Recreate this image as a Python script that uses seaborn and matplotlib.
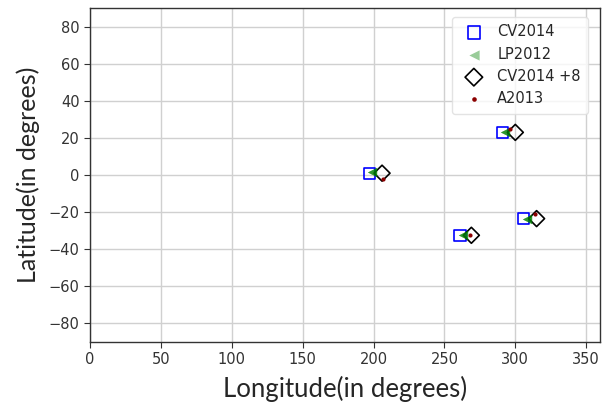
import matplotlib
matplotlib.use("Agg")
import matplotlib.pyplot as plt
import seaborn as sns

# Positions (longitude, latitude in degrees) for each catalogue
cv2014_lon = [197, 291, 261, 306]
cv2014_lat = [1, 23, -32.5, -23.5]

lp2012_lon = [199, 293, 263, 308]
lp2012_lat = [1.5, 23, -32.5, -23.5]

cv2014p8_lon = [206, 300, 269, 315]
cv2014p8_lat = [1, 23, -32.5, -23.5]

a2013_lon = [207, 296, 268, 314]
a2013_lat = [-2, 25, -32.5, -21]

x_ticks = [0, 50, 100, 150, 200, 250, 300, 350]
y_ticks = [-80, -60, -40, -20, 0, 20, 40, 60, 80]

sns.set_style("ticks")
plt.rcParams["font.family"] = ["DejaVu Sans"]
plt.rcParams["font.sans-serif"] = ["DejaVu Sans"]

fig = plt.figure(figsize=(6.04, 4.08), dpi=100)
ax = fig.add_axes([0.149, 0.162, 0.845, 0.818])

sns.scatterplot(x=cv2014_lon, y=cv2014_lat, ax=ax, marker="s", s=65,
                facecolor="none", edgecolor="blue", linewidth=1.2, label="CV2014", zorder=3)
sns.scatterplot(x=lp2012_lon, y=lp2012_lat, ax=ax, marker="<", s=45,
                color="green", alpha=0.4, linewidth=0, label="LP2012", zorder=4)
sns.scatterplot(x=lp2012_lon, y=lp2012_lat, ax=ax, marker="<", s=45,
                color="green", alpha=0.7, linewidth=0, zorder=4)
sns.scatterplot(x=cv2014p8_lon, y=cv2014p8_lat, ax=ax, marker="D", s=66,
                facecolor="none", edgecolor="black", linewidth=1.2, label="CV2014 +8", zorder=3)
sns.scatterplot(x=a2013_lon, y=a2013_lat, ax=ax, marker="o", s=9,
                color="darkred", linewidth=0, label="A2013", zorder=5)

ax.set_xlim(0, 360)
ax.set_ylim(-90, 90)
ax.set_xticks(x_ticks)
ax.set_yticks(y_ticks)
ax.grid(True, color="#d0d0d0", linewidth=1)
ax.set_axisbelow(True)
for sp in ax.spines.values():
    sp.set_color("#333333")
    sp.set_linewidth(1.0)
ax.tick_params(labelsize=10.5, colors="#333333", length=4)
for lbl in ax.get_xticklabels() + ax.get_yticklabels():
    lbl.set_family("DejaVu Sans")

ax.set_xlabel("Longitude(in degrees)", fontsize=18.5, family="Lato", labelpad=6)
ax.set_ylabel("Latitude(in degrees)", fontsize=18, family="Lato", labelpad=6)

leg = ax.legend(loc="upper right", fontsize=10.5, frameon=True, handletextpad=0.6,
                borderpad=0.5, labelspacing=0.5, markerscale=1.1,
                bbox_to_anchor=(0.99, 0.995))
leg.get_frame().set_edgecolor("#dddddd")
for t in leg.get_texts():
    t.set_family("DejaVu Sans")

fig.savefig("out.png", dpi=100)
